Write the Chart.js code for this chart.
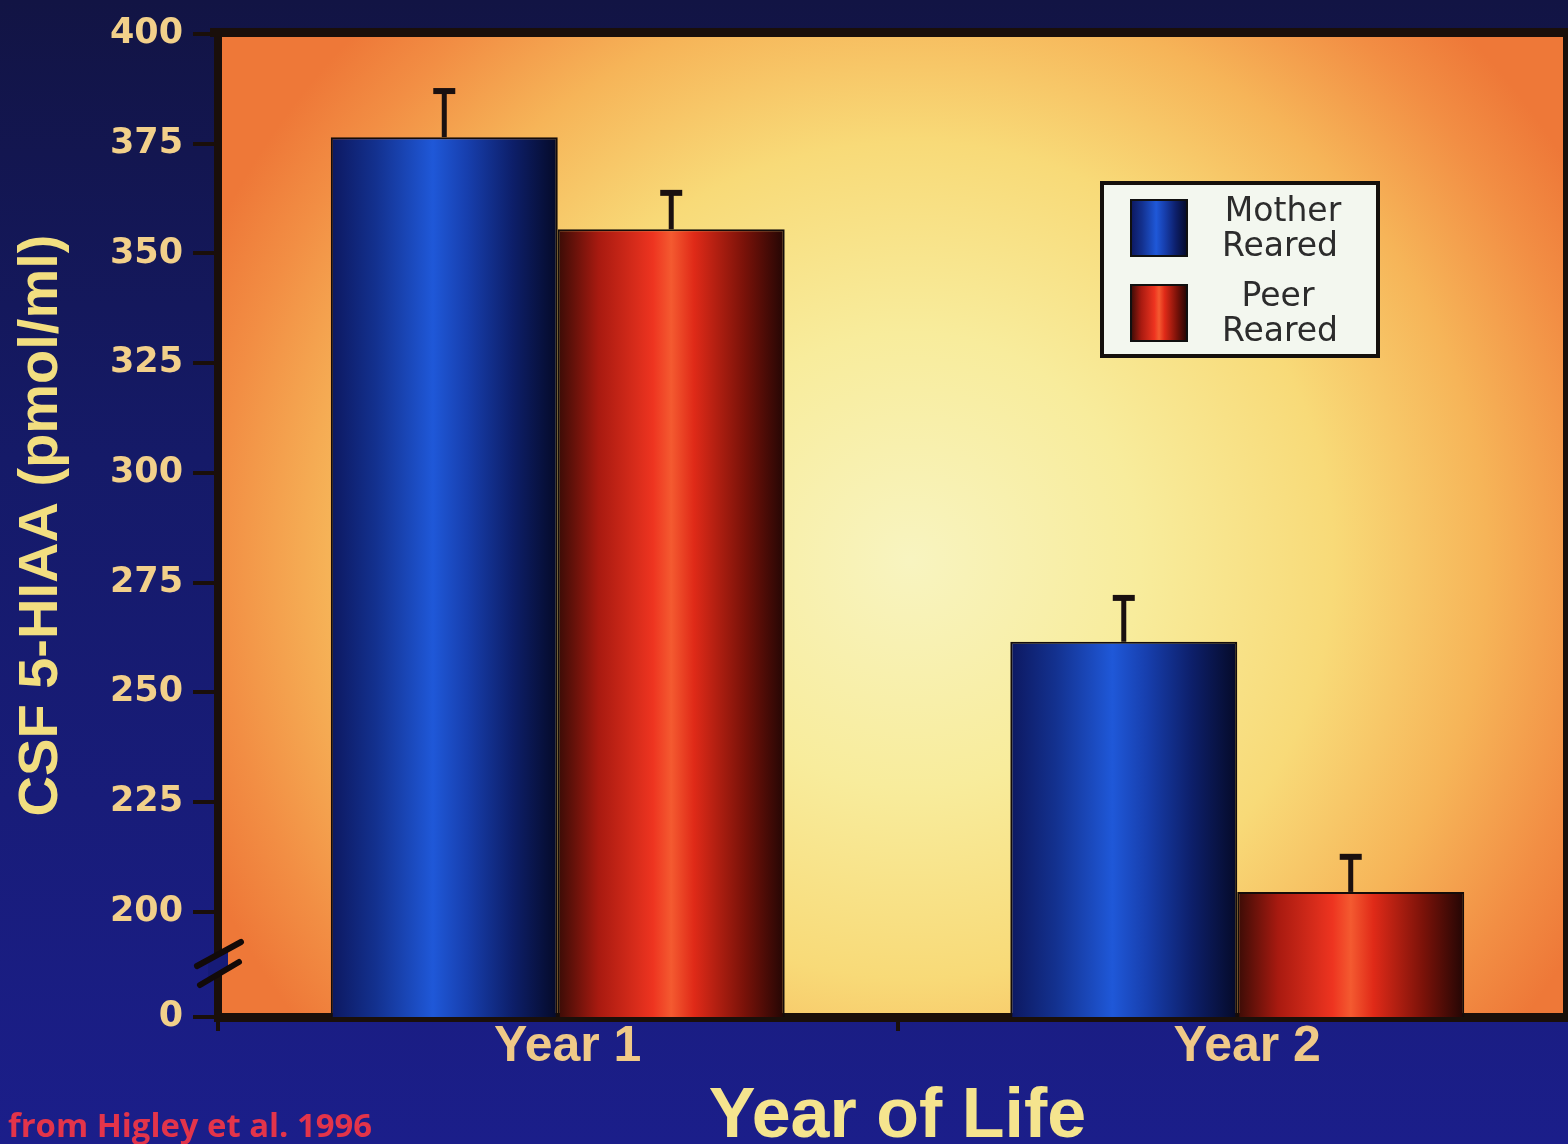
<!DOCTYPE html>
<html>
<head>
<meta charset="utf-8">
<script src="https://cdn.jsdelivr.net/npm/chart.js@4"></script>
<style>
  html, body { margin: 0; padding: 0; background: #15186a; overflow: hidden; width: 1568px; height: 1144px; }
  canvas { display: block; }
</style>
</head>
<body>
<canvas id="chart" width="1577" height="1144"></canvas>
<script>
const categories = ['Year 1', 'Year 2'];
const seriesNames = ['Mother Reared', 'Peer Reared'];
const motherReared = [376.5, 261.5];
const peerReared = [355.5, 204.5];
const motherErr = [10.5, 10];
const peerErr = [8.3, 8];
const yTicks = [200, 225, 250, 275, 300, 325, 350, 375, 400];
const breakValue = 176;   // axis break, labelled "0"
const breakLabel = '0';
const sourceNote = 'from Higley et al. 1996';

const blueStops = [[0, '#0d1860'], [0.2, '#13318f'], [0.45, '#1f58d8'], [0.6, '#173fae'], [0.8, '#0d1f6a'], [1, '#050a28']];
const redStops = [[0, '#3a0c06'], [0.18, '#a81a10'], [0.42, '#ee3420'], [0.5, '#f45a30'], [0.6, '#e02a18'], [0.82, '#7a1209'], [1, '#220604']];
const catPct = 0.668;

function makeGrad(ctx, x0, w, stops) {
    const g = ctx.createLinearGradient(x0, 0, x0 + w, 0);
    stops.forEach(s => g.addColorStop(s[0], s[1]));
    return g;
}

function barFill(context) {
    const chart = context.chart;
    const stops = context.datasetIndex === 0 ? blueStops : redStops;
    if (!chart.chartArea || context.type !== 'data') return stops[2][1];
    const xs = chart.scales.x;
    const center = xs.getPixelForValue(context.dataIndex);
    const w = xs.width / categories.length * catPct / 2;
    const x0 = context.datasetIndex === 0 ? center - w : center;
    return makeGrad(chart.ctx, x0, w, stops);
}

const slidePlugin = {
    id: 'slide',
    beforeDraw(chart) {
        const ctx = chart.ctx;
        const a = chart.chartArea;
        ctx.save();
        const bg = ctx.createLinearGradient(0, 0, 0, chart.height);
        bg.addColorStop(0, '#121444');
        bg.addColorStop(0.4, '#151a68');
        bg.addColorStop(1, '#1b1e8a');
        ctx.fillStyle = bg;
        ctx.fillRect(0, 0, chart.width, chart.height);

        // plot background glow
        const right = 1563;
        ctx.beginPath();
        ctx.rect(a.left, a.top, right - a.left, a.bottom - a.top);
        ctx.clip();
        ctx.translate(910, 560);
        ctx.scale(770 / 760, 1);
        const rg = ctx.createRadialGradient(0, 0, 0, 0, 0, 760);
        rg.addColorStop(0, '#f8f4c0');
        rg.addColorStop(0.3, '#f8ec9c');
        rg.addColorStop(0.55, '#f8da78');
        rg.addColorStop(0.75, '#f6b458');
        rg.addColorStop(0.9, '#f28e44');
        rg.addColorStop(1, '#ee7838');
        ctx.fillStyle = rg;
        ctx.fillRect(-1200, -1200, 2400, 2400);
        ctx.restore();

        ctx.save();
        ctx.fillStyle = '#1a0f0a';
        ctx.fillRect(210, a.top - 6, chart.width - 210, 9);
        ctx.fillRect(right, a.top - 6, chart.width - right, a.bottom - a.top + 6);
        ctx.restore();
    },
    afterDraw(chart) {
        const ctx = chart.ctx;
        const ys = chart.scales.y;

        // error bars
        const errs = [motherErr, peerErr];
        ctx.save();
        ctx.strokeStyle = '#1a1010';
        chart.data.datasets.forEach((ds, di) => {
            chart.getDatasetMeta(di).data.forEach((bar, i) => {
                const yTop = ys.getPixelForValue(ds.data[i] + errs[di][i]);
                ctx.lineWidth = 5;
                ctx.beginPath();
                ctx.moveTo(bar.x, bar.y);
                ctx.lineTo(bar.x, yTop);
                ctx.stroke();
                ctx.lineWidth = 6;
                ctx.beginPath();
                ctx.moveTo(bar.x - 11, yTop);
                ctx.lineTo(bar.x + 11, yTop);
                ctx.stroke();
            });
        });
        ctx.restore();

        // axis break
        ctx.save();
        ctx.fillStyle = '#161b78';
        ctx.beginPath();
        ctx.moveTo(208, 961);
        ctx.lineTo(228, 950);
        ctx.lineTo(228, 968);
        ctx.lineTo(208, 979);
        ctx.closePath();
        ctx.fill();
        ctx.strokeStyle = '#120a08';
        ctx.lineWidth = 6;
        ctx.lineCap = 'round';
        ctx.beginPath();
        ctx.moveTo(197, 966); ctx.lineTo(241, 942);
        ctx.moveTo(200, 985); ctx.lineTo(239, 962);
        ctx.stroke();
        ctx.restore();

        // legend
        ctx.save();
        ctx.fillStyle = '#f3f7ef';
        ctx.fillRect(1102, 183, 276, 173);
        ctx.strokeStyle = '#15100c';
        ctx.lineWidth = 4;
        ctx.strokeRect(1102, 183, 276, 173);
        const swatchY = [200, 285];
        chart.data.datasets.forEach((ds, di) => {
            ctx.fillStyle = makeGrad(ctx, 1131, 56, di === 0 ? blueStops : redStops);
            ctx.fillRect(1131, swatchY[di], 56, 56);
            ctx.lineWidth = 2;
            ctx.strokeStyle = '#101010';
            ctx.strokeRect(1131, swatchY[di], 56, 56);
            const lines = ds.label.split(' ');
            ctx.fillStyle = '#2c2c2c';
            ctx.font = '33px "DejaVu Sans"';
            ctx.textAlign = 'center';
            ctx.textBaseline = 'middle';
            ctx.fillText(lines[0], di === 0 ? 1283 : 1278, swatchY[di] + 12, 124);
            ctx.fillText(lines[1], 1280, swatchY[di] + 47, 122);
        });
        ctx.restore();

        // source note
        ctx.save();
        ctx.fillStyle = '#e3344a';
        ctx.font = 'bold 33px "Open Sans"';
        ctx.textAlign = 'left';
        ctx.textBaseline = 'alphabetic';
        ctx.fillText(sourceNote, 8, 1137, 364);
        ctx.restore();
    }
};

const barStyle = {
    backgroundColor: barFill,
    borderColor: '#140c0a',
    borderWidth: 2,
    borderSkipped: 'start',
    barPercentage: 1,
    categoryPercentage: catPct
};

new Chart(document.getElementById('chart'), {
    type: 'bar',
    data: {
        labels: categories,
        datasets: [
            Object.assign({ label: seriesNames[0], data: motherReared }, barStyle),
            Object.assign({ label: seriesNames[1], data: peerReared }, barStyle)
        ]
    },
    options: {
        responsive: false,
        animation: false,
        layout: { padding: { top: 34, right: 0, left: 0, bottom: 0 } },
        plugins: {
            legend: { display: false },
            tooltip: { enabled: false },
            title: { display: false }
        },
        scales: {
            x: {
                z: 1,
                offset: true,
                afterFit(scale) { scale.height = 127; },
                grid: { drawOnChartArea: false, drawTicks: true, tickLength: 14, lineWidth: 4, color: '#1a0f0a' },
                border: { display: true, color: '#1a0f0a', width: 9 },
                ticks: {
                    color: '#efc987',
                    font: { family: 'Liberation Sans', weight: 'bold', size: 50, lineHeight: 1 },
                    padding: -9,
                    labelOffset: 10,
                    maxRotation: 0
                },
                title: {
                    display: true,
                    text: 'Year of Life',
                    color: '#f5e48e',
                    font: { family: 'Liberation Sans', weight: 'bold', size: 70, lineHeight: 1 },
                    padding: { top: 0, bottom: -9 }
                }
            },
            y: {
                min: breakValue,
                max: 400,
                afterFit(scale) { scale.width = 218; },
                afterBuildTicks(scale) {
                    scale.ticks = [breakValue].concat(yTicks).map(v => ({ value: v }));
                },
                grid: { drawOnChartArea: false, drawTicks: true, tickLength: 25, lineWidth: 4, color: '#1a0f0a' },
                border: { display: true, color: '#1a0f0a', width: 8 },
                ticks: {
                    color: '#f2d08a',
                    font: { family: 'DejaVu Sans', weight: 'bold', size: 35 },
                    padding: 10,
                    callback: v => v === breakValue ? breakLabel : String(v)
                },
                title: {
                    display: true,
                    text: 'CSF 5-HIAA (pmol/ml)',
                    color: '#f2de80',
                    font: { family: 'Liberation Sans', weight: 'bold', size: 56, lineHeight: 1 },
                    padding: { top: 14, bottom: 0 }
                }
            }
        }
    },
    plugins: [slidePlugin]
});
</script>
</body>
</html>
